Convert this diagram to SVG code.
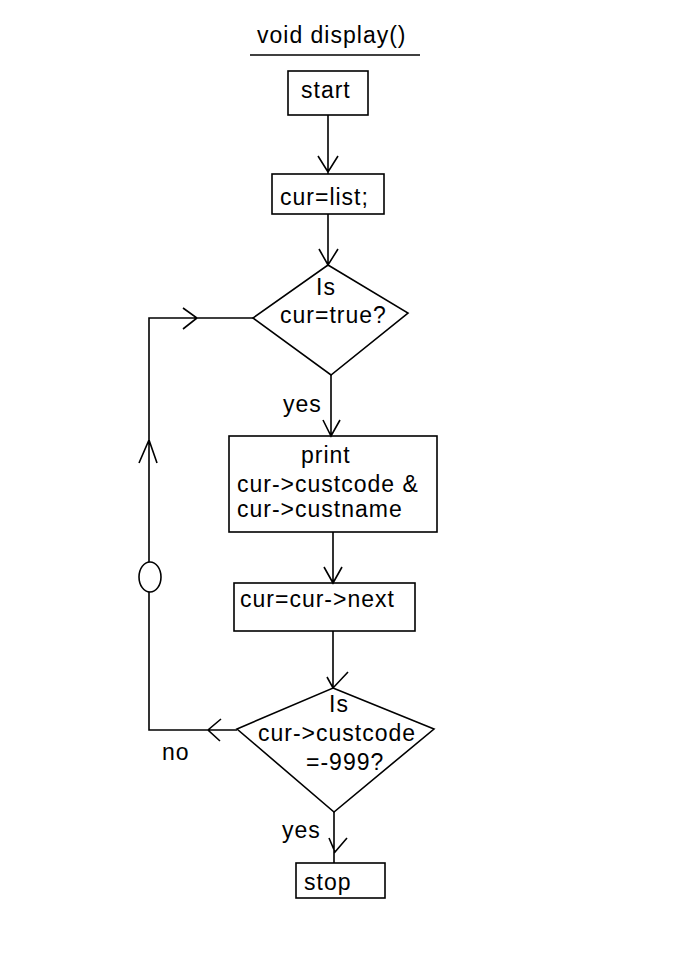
<svg xmlns="http://www.w3.org/2000/svg" width="700" height="966" viewBox="0 0 700 966">
<style>
text{font-family:"Liberation Sans",Arial,sans-serif;font-size:23px;letter-spacing:1px;fill:#000}
.s{fill:#fff;stroke:#000;stroke-width:1.6}
.c{fill:none;stroke:#000;stroke-width:1.6}
</style>
<rect width="700" height="966" fill="#fff"/>
<g id="title">
<text x="257" y="43">void display()</text>
<line class="c" x1="250" y1="55" x2="420" y2="55"/>
</g>
<g id="start"><rect class="s" x="288" y="71" width="80" height="44"/><text x="301" y="98">start</text></g>
<g id="init"><rect class="s" x="272" y="174" width="112" height="40"/><text x="280" y="205">cur=list;</text></g>
<g id="cond1"><polygon class="s" points="328,265 408,313 331,375 253,318"/><text x="316" y="295">Is</text><text x="280" y="323">cur=true?</text></g>
<g id="print"><rect class="s" x="229" y="436" width="208" height="96"/><text x="301" y="463">print</text><text x="237" y="492">cur-&gt;custcode &amp;</text><text x="237" y="517">cur-&gt;custname</text></g>
<g id="next"><rect class="s" x="234" y="583" width="181" height="48"/><text x="240" y="607">cur=cur-&gt;next</text></g>
<g id="cond2"><polygon class="s" points="333,688 434,729 334,812 237,729"/><text x="329" y="712">Is</text><text x="258" y="741">cur-&gt;custcode</text><text x="306" y="770">=-999?</text></g>
<g id="stop"><rect class="s" x="296" y="863" width="89" height="35"/><text x="304" y="890">stop</text></g>
<g id="connectors">
<path class="c" d="M328,115 V174 M318,156 L328,172 L338,156"/>
<path class="c" d="M328,214 V265 M319,249 L328,265 L338,249"/>
<path class="c" d="M331,375 V436 M323,420 L331,436 L340,420"/>
<path class="c" d="M333,532 V583 M324,567 L333,583 L342,567"/>
<path class="c" d="M333,631 V688 M327,677 L333,688 L348,672"/>
<path class="c" d="M334,812 V863 M329,838 L335,852 L347,838"/>
<path class="c" d="M237,730 H149 V318 H253 M221,719 L208,730 L220,741 M183,308 L197,318 L183,329 M139,463 L149,440 L157,463"/>
<ellipse cx="150" cy="577" rx="11" ry="15" fill="#fff" stroke="#000" stroke-width="1.6"/>
<text x="162" y="760">no</text>
<text x="283" y="412">yes</text>
<text x="282" y="838">yes</text>
</g>
</svg>
